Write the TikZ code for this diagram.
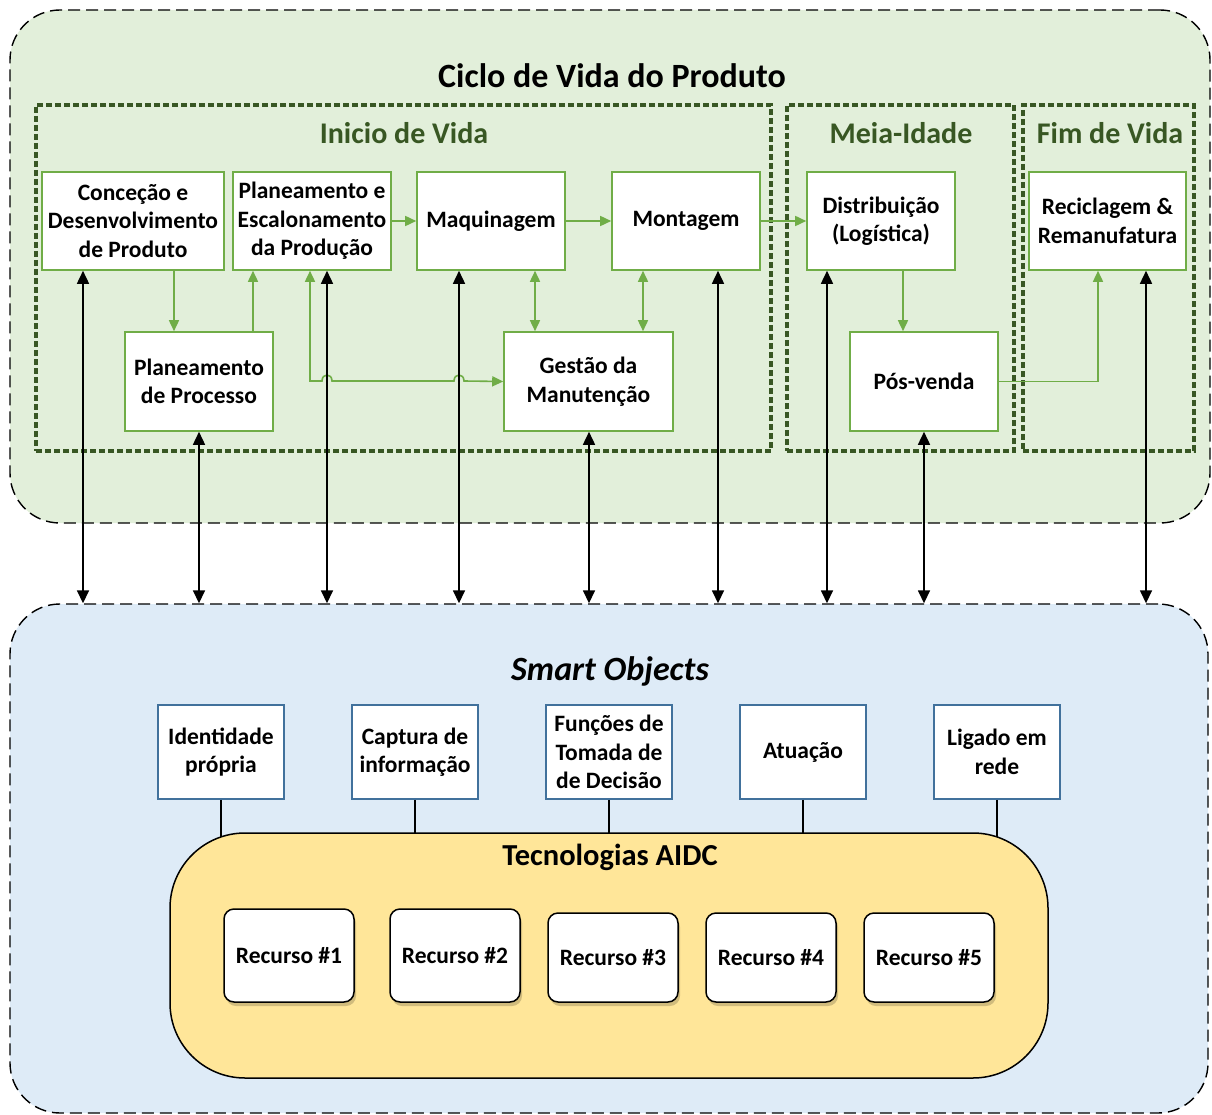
\documentclass[tikz,border=0pt]{standalone}
\usepackage{fontspec}
\setmainfont{Carlito}
\usetikzlibrary{arrows.meta,shadows}

\definecolor{lifegreen}{HTML}{E2EFDA}
\definecolor{soblue}{HTML}{DEEBF7}
\definecolor{aidcyellow}{HTML}{FFE699}
\definecolor{stagegreen}{HTML}{70AD47}
\definecolor{phasegreen}{HTML}{385723}
\definecolor{objblue}{HTML}{41719C}

\tikzset{
  txt/.style={font=\fontsize{23.5}{28.5}\selectfont\bfseries},
  region/.style={draw=black, line width=1.4pt, dash pattern=on 12pt off 6pt,
    rounded corners=50pt, inner sep=0pt},
  phase/.style={draw=phasegreen, line width=3.2pt, dash pattern=on 6pt off 3pt,
    inner sep=0pt},
  phasetitle/.style={text=phasegreen, font=\fontsize{30}{36}\selectfont\bfseries},
  stagebox/.style={draw=stagegreen, line width=1.6pt, fill=white, inner sep=0pt,
    align=center, txt},
  objbox/.style={draw=objblue, line width=1.6pt, fill=white, inner sep=0pt,
    minimum width=126pt, minimum height=94pt, align=center, txt},
  resbox/.style={draw=black, line width=1.5pt, fill=white, rounded corners=10pt,
    inner sep=0pt, minimum width=130pt, txt,
    drop shadow={shadow xshift=2pt, shadow yshift=-4pt, opacity=0.18, fill=black}},
  garrow/.style={draw=stagegreen, line width=1.6pt,
    -{Triangle[length=11pt,width=10pt]}},
  gdarrow/.style={draw=stagegreen, line width=1.6pt,
    {Triangle[length=11pt,width=10pt]}-{Triangle[length=11pt,width=10pt]}},
  bdarrow/.style={draw=black, line width=1.6pt,
    {Triangle[length=13pt,width=12pt]}-{Triangle[length=13pt,width=12pt]}},
  tie/.style={draw=black, line width=1.5pt}
}

\begin{document}
\begin{tikzpicture}[x=1pt,y=-1pt]
\useasboundingbox (0,0) rectangle (1212,1115);

% ---------- upper region: product life cycle ----------
\node[region, fill=lifegreen, minimum width=1200pt, minimum height=513pt]
  (plc) at (610,266.5) {};
\node[font=\fontsize{34}{40}\selectfont\bfseries] (plctitle) at (612,76)
  {Ciclo de Vida do Produto};

% phase frames
\node[phase, minimum width=735pt, minimum height=346pt] (ini) at (403.5,278) {};
\node[phase, minimum width=227pt, minimum height=346pt] (meia) at (900.5,278) {};
\node[phase, minimum width=171pt, minimum height=346pt] (fim) at (1108.5,278) {};
\node[phasetitle] (initit) at (404,133) {Inicio de Vida};
\node[phasetitle] (meiatit) at (901,133) {Meia-Idade};
\node[phasetitle] (fimtit) at (1110,133) {Fim de Vida};

% stages
\node[stagebox, minimum width=182pt, minimum height=98pt] (conc) at (133,221)
  {Conceção e\\Desenvolvimento\\de Produto};
\node[stagebox, minimum width=158pt, minimum height=98pt] (pe) at (312,221)
  {Planeamento e\\Escalonamento\\da Produção};
\node[stagebox, minimum width=148pt, minimum height=98pt] (maq) at (491,221)
  {Maquinagem};
\node[stagebox, minimum width=148pt, minimum height=98pt] (mont) at (686,221)
  {Montagem};
\node[stagebox, minimum width=148pt, minimum height=99pt] (pp) at (199,381.5)
  {Planeamento\\de Processo};
\node[stagebox, minimum width=169pt, minimum height=99pt] (gm) at (588.5,381.5)
  {Gestão da\\Manutenção};
\node[stagebox, minimum width=148pt, minimum height=98pt] (dist) at (881,221)
  {Distribuição\\(Logística)};
\node[stagebox, minimum width=148pt, minimum height=99pt] (pv) at (924,381.5)
  {Pós-venda};
\node[stagebox, minimum width=157pt, minimum height=98pt] (rec) at (1107.5,221)
  {Reciclagem \&\\Remanufatura};

% flows between stages
\draw[garrow] (174,0 |- conc.south) -- (174,0 |- pp.north);
\draw[garrow] (253,0 |- pp.north) -- (253,0 |- pe.south);
\draw[gdarrow] (310,0 |- pe.south) -- (310,381)
  -- (322,381) .. controls (322,373) and (332,373) .. (332,381)
  -- (454,381) .. controls (454,373) and (464,373) .. (464,381)
  -- (gm.west);
\draw[garrow] (pe.east) -- (maq.west);
\draw[garrow] (maq.east) -- (mont.west);
\draw[garrow] (mont.east) -- (dist.west);
\draw[gdarrow] (535,0 |- maq.south) -- (535,0 |- gm.north);
\draw[gdarrow] (643,0 |- mont.south) -- (643,0 |- gm.north);
\draw[garrow] (903,0 |- dist.south) -- (903,0 |- pv.north);
\draw[garrow] (pv.east) -| (1098,0 |- rec.south);

% ---------- lower region: smart objects ----------
\node[region, fill=soblue, minimum width=1198pt, minimum height=509pt]
  (so) at (609,858.5) {};
\node[font=\fontsize{34}{40}\selectfont\bfseries\itshape] (sotitle) at (610,671)
  {Smart Objects};

% links between life-cycle stages and smart objects
\draw[bdarrow] (83,0 |- conc.south) -- (83,0 |- so.north);
\draw[bdarrow] (199,0 |- pp.south) -- (199,0 |- so.north);
\draw[bdarrow] (327,0 |- pe.south) -- (327,0 |- so.north);
\draw[bdarrow] (459,0 |- maq.south) -- (459,0 |- so.north);
\draw[bdarrow] (589,0 |- gm.south) -- (589,0 |- so.north);
\draw[bdarrow] (718,0 |- mont.south) -- (718,0 |- so.north);
\draw[bdarrow] (827,0 |- dist.south) -- (827,0 |- so.north);
\draw[bdarrow] (924,0 |- pv.south) -- (924,0 |- so.north);
\draw[bdarrow] (1146,0 |- rec.south) -- (1146,0 |- so.north);

% smart object capabilities
\node[objbox] (ident) at (221,752) {Identidade\\própria};
\node[objbox] (capt) at (415,752) {Captura de\\informação};
\node[objbox] (func) at (609,752) {Funções de\\Tomada de\\de Decisão};
\node[objbox] (atua) at (803,752) {Atuação};
\node[objbox] (lig) at (997,752) {Ligado em\\rede};

% AIDC technologies
\coordinate (aidctop) at (609,833);
\draw[tie, shorten >=-5pt] (ident.south) -- (ident.south |- aidctop);
\draw[tie] (capt.south) -- (capt.south |- aidctop);
\draw[tie] (func.south) -- (func.south |- aidctop);
\draw[tie] (atua.south) -- (atua.south |- aidctop);
\draw[tie, shorten >=-5pt] (lig.south) -- (lig.south |- aidctop);

\node[draw=black, line width=1.5pt, fill=aidcyellow, rounded corners=75pt,
  minimum width=878pt, minimum height=245pt, inner sep=0pt] (aidc) at (609,955.5) {};
\node[font=\fontsize{30.5}{36}\selectfont\bfseries] (aidctitle) at (610,857)
  {Tecnologias AIDC};

\node[resbox, minimum height=93pt] (r1) at (289,955.5) {Recurso \#1};
\node[resbox, minimum height=93pt] (r2) at (455,955.5) {Recurso \#2};
\node[resbox, minimum height=89pt] (r3) at (613,957.5) {Recurso \#3};
\node[resbox, minimum height=89pt] (r4) at (771,957.5) {Recurso \#4};
\node[resbox, minimum height=89pt] (r5) at (929,957.5) {Recurso \#5};
\end{tikzpicture}
\end{document}
